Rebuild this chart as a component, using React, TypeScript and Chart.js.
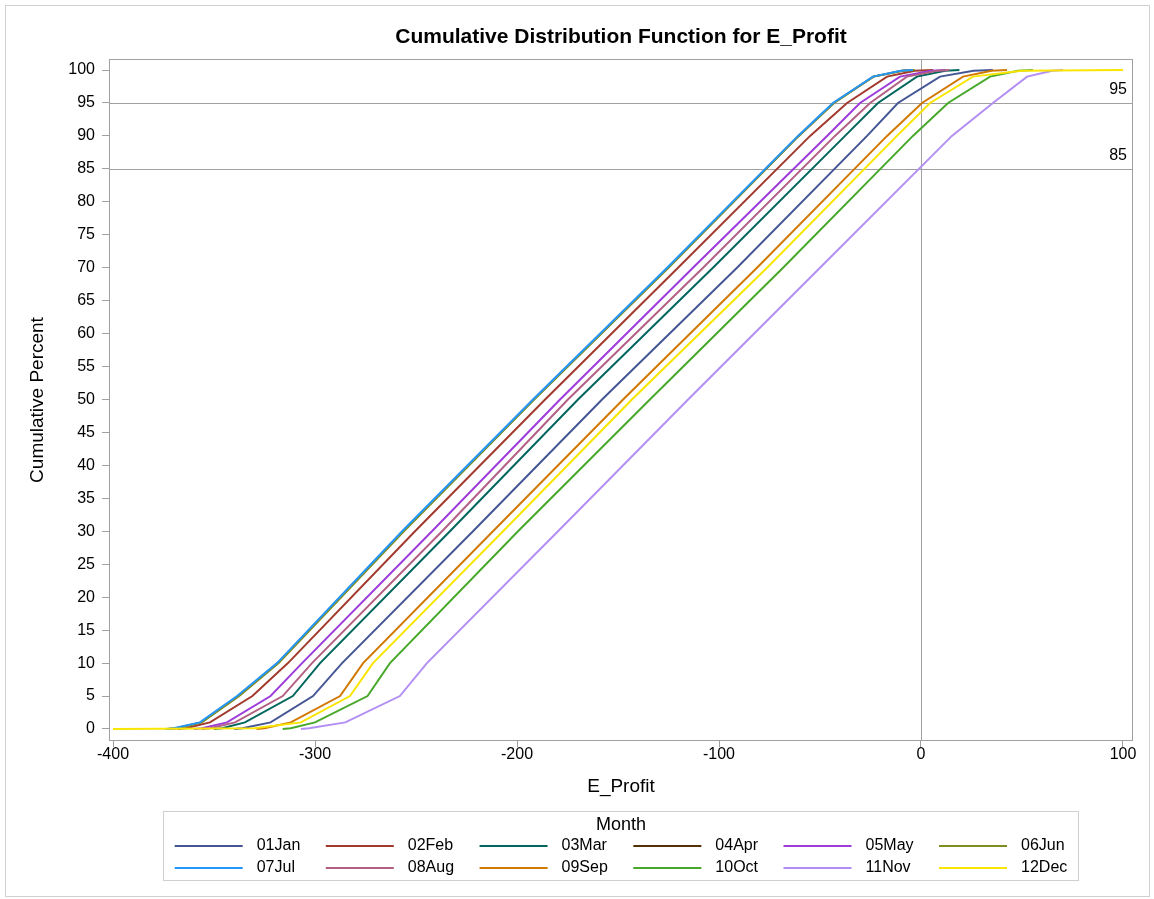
import React, { useEffect, useRef } from 'react';
import { Chart, registerables } from 'chart.js';

Chart.register(...registerables);

// ---- Data ----
const chartTitle = 'Cumulative Distribution Function for E_Profit';
const xAxisTitle = 'E_Profit';
const yAxisTitle = 'Cumulative Percent';
const legendTitle = 'Month';

const monthNames = ['01Jan', '02Feb', '03Mar', '04Apr', '05May', '06Jun', '07Jul', '08Aug', '09Sep', '10Oct', '11Nov', '12Dec'];

// cumulative percent levels at which E_Profit was read for each month
const percentLevels = [0, 0.1, 1, 5, 10, 30, 50, 70, 90, 95, 99, 99.9, 100];

const jan = [-340, -336, -322, -301, -286.6, -221.8, -157.9, -91.1, -26.7, -11.4, 9.4, 26, 35.6];
const feb = [-368, -364, -352, -331, -313.4, -250.5, -186.1, -120.3, -54.9, -36.6, -16.8, -3, 6];
const mar = [-350, -346, -334.7, -311, -297.5, -233.2, -169.8, -103, -37.6, -21.3, -2, 12, 19];
const apr = [-373, -369, -356.5, -338, -318.5, -256.5, -191.8, -125.3, -60.6, -43.3, -23.6, -9.5, -3.5];
const may = [-360, -356, -343.6, -322, -306.4, -242.1, -178.7, -112.9, -46.5, -30.2, -10.4, 5, 12];
const jun = [-372, -368, -356, -337.5, -318, -256, -191.5, -125, -60.5, -43, -23.5, -9, -3];
const jul = [-374, -370, -357, -338.6, -318.8, -256.9, -192.1, -125.7, -60.9, -43.6, -23.8, -10, -4];
const aug = [-356, -352, -339.6, -316, -301.5, -237.1, -174.8, -107.9, -42.6, -25.2, -7, 8, 14];
const sep = [-329, -325, -312, -287.6, -276.2, -211.9, -147.5, -81.2, -16.8, 0.5, 20.8, 35, 42.6];
const oct = [-316, -312, -300, -274, -262.9, -199.5, -134.2, -68.3, -4, 13.4, 34.2, 48, 55.4];
const nov = [-307, -303, -285, -258, -244.6, -179.7, -115.3, -50, 15.3, 35.6, 52.5, 65, 70.3];
const dec = [-400, -330, -307, -282.7, -271.3, -206.9, -143.1, -76.2, -11.9, 4.5, 25.7, 50, 100];

const monthProfits = [jan, feb, mar, apr, may, jun, jul, aug, sep, oct, nov, dec];

const xTickValues = [-400, -300, -200, -100, 0, 100];
const yTickValues = [0, 5, 10, 15, 20, 25, 30, 35, 40, 45, 50, 55, 60, 65, 70, 75, 80, 85, 90, 95, 100];

const referencePercents = [95, 85];
const referenceProfit = 0;

const xMin = -401.5;
const xMax = 104.46;
const yMin = -1.67;
const yMax = 101.52;

// ---- Styles ----
const monthColors = ['#445694', '#A23A2E', '#01665E', '#543005', '#9D3CDB', '#7F8E1F', '#2597FA', '#B26084', '#D17800', '#47A82A', '#B38EF3', '#F9E500'];
const FONT = '"Liberation Sans", Arial, sans-serif';
const axisGray = '#a0a0a0';

const decorPlugin = {
  id: 'decor',
  beforeDatasetsDraw(chart: any) {
    const { ctx, chartArea: a, scales } = chart;
    const x = scales.x;
    const y = scales.y;
    ctx.save();
    ctx.strokeStyle = axisGray;
    ctx.lineWidth = 1;
    referencePercents.forEach((p) => {
      const py = Math.round(y.getPixelForValue(p)) + 0.5;
      ctx.beginPath();
      ctx.moveTo(a.left, py);
      ctx.lineTo(a.right, py);
      ctx.stroke();
    });
    const px = Math.round(x.getPixelForValue(referenceProfit)) + 0.5;
    ctx.beginPath();
    ctx.moveTo(px, a.top);
    ctx.lineTo(px, a.bottom);
    ctx.stroke();
    ctx.restore();
  },
  afterDraw(chart: any) {
    const { ctx, chartArea: a, scales } = chart;
    const y = scales.y;
    ctx.save();
    // plot frame
    ctx.strokeStyle = axisGray;
    ctx.lineWidth = 1;
    ctx.strokeRect(Math.round(a.left) - 0.5, Math.round(a.top) - 0.5, Math.round(a.right - a.left) + 1, Math.round(a.bottom - a.top) + 1);

    // reference labels
    ctx.fillStyle = '#000';
    ctx.font = `16px ${FONT}`;
    ctx.textAlign = 'right';
    ctx.textBaseline = 'middle';
    referencePercents.forEach((p) => {
      ctx.fillText(String(p), a.right - 5, y.getPixelForValue(p) - 13);
    });

    // title
    const cx = (a.left + a.right) / 2;
    ctx.font = `bold 21px ${FONT}`;
    ctx.textAlign = 'center';
    ctx.fillText(chartTitle, cx, 37);

    // legend
    const ds = chart.data.datasets;
    const nCols = 6;
    const lineLen = 68;
    const gap = 14;
    const colGap = 25.5;
    ctx.font = `16px ${FONT}`;
    const colW: number[] = [];
    for (let c = 0; c < nCols; c++) {
      let m = 0;
      for (let r = 0; r * nCols + c < ds.length; r++) {
        m = Math.max(m, ctx.measureText(ds[r * nCols + c].label).width);
      }
      colW.push(lineLen + gap + m);
    }
    const total = colW.reduce((s, v) => s + v, 0) + colGap * (nCols - 1);
    const boxL = 163.5, boxR = 1078.5, boxT = 811.5, boxB = 880.5;
    ctx.strokeStyle = '#cfcfcf';
    ctx.strokeRect(boxL, boxT, boxR - boxL, boxB - boxT);
    ctx.fillStyle = '#000';
    ctx.textAlign = 'center';
    ctx.font = `18px ${FONT}`;
    ctx.fillText(legendTitle, cx, 825);
    ctx.font = `16px ${FONT}`;
    const startX = cx - total / 2;
    ctx.textAlign = 'left';
    ds.forEach((d: any, i: number) => {
      const c = i % nCols;
      const r = Math.floor(i / nCols);
      let lx = startX;
      for (let k = 0; k < c; k++) lx += colW[k] + colGap;
      const ly = 846 + r * 22;
      ctx.strokeStyle = d.borderColor;
      ctx.lineWidth = 2;
      ctx.beginPath();
      ctx.moveTo(lx, ly);
      ctx.lineTo(lx + lineLen, ly);
      ctx.stroke();
      ctx.fillStyle = '#000';
      ctx.fillText(d.label, lx + lineLen + gap, ly);
    });

    // outer border
    ctx.strokeStyle = '#d0d0d0';
    ctx.lineWidth = 1;
    ctx.strokeRect(5.5, 5.5, 1144, 891);
    ctx.restore();
  },
};

export default function App() {
  const ref = useRef<HTMLCanvasElement | null>(null);
  useEffect(() => {
    if (!ref.current) return;
    const datasets = monthNames.map((name, i) => ({
      label: name,
      data: monthProfits[i].map((v, j) => ({ x: v, y: percentLevels[j] })),
      borderColor: monthColors[i],
      backgroundColor: monthColors[i],
      borderWidth: 2,
      pointRadius: 0,
      tension: 0,
      fill: false,
      order: monthNames.length - 1 - i,
    }));
    const chart = new Chart(ref.current, {
      type: 'line',
      data: { datasets },
      plugins: [decorPlugin],
      options: {
        animation: false,
        responsive: false,
        devicePixelRatio: 1,
        layout: { padding: { left: 0, top: 60, right: 22, bottom: 99 } },
        plugins: {
          legend: { display: false },
          title: { display: false },
          tooltip: { enabled: false },
        },
        scales: {
          x: {
            type: 'linear',
            min: xMin,
            max: xMax,
            afterFit: (s: any) => { s.height = 60; },
            afterBuildTicks: (s: any) => { s.ticks = xTickValues.map((v) => ({ value: v })); },
            grid: { display: true, drawOnChartArea: false, drawTicks: true, tickLength: 7, color: axisGray },
            border: { display: false },
            ticks: { padding: 0, color: '#000', font: { family: FONT, size: 16, lineHeight: 1 }, maxRotation: 0, autoSkip: false },
            title: { display: true, text: xAxisTitle, color: '#000', font: { family: FONT, size: 19, lineHeight: 1.2 }, padding: { top: 0, bottom: 2 } },
          },
          y: {
            type: 'linear',
            min: yMin,
            max: yMax,
            afterFit: (s: any) => { s.width = 110; },
            afterBuildTicks: (s: any) => { s.ticks = yTickValues.map((v) => ({ value: v })); },
            grid: { display: true, drawOnChartArea: false, drawTicks: true, tickLength: 8, color: axisGray },
            border: { display: false },
            ticks: { padding: 7, color: '#000', font: { family: FONT, size: 16, lineHeight: 1 }, autoSkip: false },
            title: { display: true, text: yAxisTitle, color: '#000', font: { family: FONT, size: 19, lineHeight: 1.2 }, padding: { top: 26, bottom: 0 } },
          },
        },
      } as any,
    });
    return () => chart.destroy();
  }, []);
  return (
    <div style={{ position: 'fixed', left: 0, top: 0, width: 1154, height: 899, background: '#fff' }}>
      <canvas ref={ref} width={1154} height={899} style={{ width: 1154, height: 899, display: 'block' }} />
    </div>
  );
}
